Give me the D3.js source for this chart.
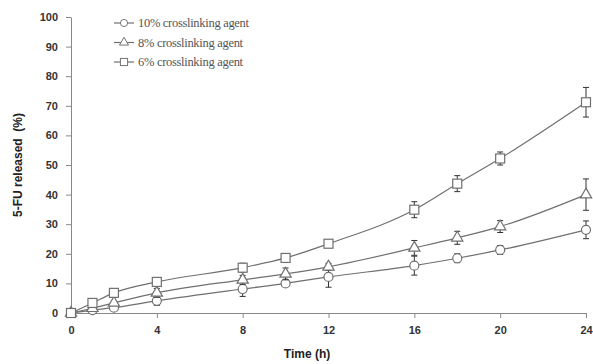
<!DOCTYPE html>
<html>
<head>
<meta charset="utf-8">
<script src="https://cdn.jsdelivr.net/npm/d3@7"></script>
<style>
  body { margin: 0; background: #fff; }
  .axis text { font-family: "Liberation Sans", Arial, sans-serif; font-weight: bold; font-size: 11px; fill: #333; }
  .axis path, .axis line { stroke: #888; }
</style>
</head>
<body>
<div id="chart"></div>
<script>
(function() {

  var times = [0, 1, 2, 4, 8, 10, 12, 16, 18, 20, 24];

  var names = ["10% crosslinking agent", "8% crosslinking agent", "6% crosslinking agent"];

  var released10 = [0, 1.0, 1.8, 4.1, 8.1, 10.0, 12.2, 16.0, 18.5, 21.3, 28.1],
      err10      = [0, 0.5, 0.6, 1.5, 2.5, 1.0, 3.5, 3.2, 1.5, 1.5, 3.0];

  var released8 = [0, 1.6, 3.4, 6.8, 11.2, 13.2, 15.6, 22.0, 25.4, 29.2, 40.0],
      err8      = [0, 0.5, 0.8, 1.5, 1.5, 2.0, 1.2, 2.5, 2.2, 2.0, 5.3];

  var released6 = [0, 3.4, 6.8, 10.5, 15.3, 18.6, 23.4, 34.9, 43.7, 52.2, 71.2],
      err6      = [0, 0.6, 0.8, 1.0, 1.5, 1.5, 1.0, 2.7, 2.7, 2.2, 5.0];

  var xTicks = [0, 4, 8, 12, 16, 20, 24],
      yTicks = [0, 10, 20, 30, 40, 50, 60, 70, 80, 90, 100];

  var series = [
    { name: names[0], values: released10, errors: err10, shape: "circle" },
    { name: names[1], values: released8, errors: err8, shape: "triangle" },
    { name: names[2], values: released6, errors: err6, shape: "square" }
  ];

  var width = 593, height = 364;
  var margin = { top: 17, right: 7, bottom: 51, left: 71 };

  var svg = d3.select("#chart").append("svg")
      .attr("width", width)
      .attr("height", height);

  var x = d3.scaleLinear()
      .domain([0, 24])
      .range([margin.left, width - margin.right]);

  var y = d3.scaleLinear()
      .domain([0, 100])
      .range([height - margin.bottom, margin.top]);

  var lineColor = "#707070";

  svg.append("g")
      .attr("class", "axis")
      .attr("transform", "translate(0," + y(0) + ")")
      .call(d3.axisBottom(x).tickValues(xTicks).tickSize(5).tickPadding(8).tickSizeOuter(0));

  svg.append("g")
      .attr("class", "axis")
      .attr("transform", "translate(" + x(0) + ",0)")
      .call(d3.axisLeft(y).tickValues(yTicks).tickSize(5).tickPadding(8).tickSizeOuter(0));

  svg.append("text")
      .attr("x", 307)
      .attr("y", 358)
      .attr("text-anchor", "middle")
      .style("font-family", "'Liberation Sans', Arial, sans-serif")
      .style("font-weight", "bold")
      .style("font-size", "12px")
      .style("fill", "#222")
      .text("Time (h)");

  svg.append("text")
      .attr("transform", "translate(22," + y(50) + ") rotate(-90)")
      .attr("text-anchor", "middle")
      .style("font-family", "'Liberation Sans', Arial, sans-serif")
      .style("font-weight", "bold")
      .style("font-size", "12px")
      .style("fill", "#222")
      .style("white-space", "pre")
      .text("5-FU released  (%)");

  var line = d3.line()
      .x(function(d) { return x(d[0]); })
      .y(function(d) { return y(d[1]); })
      .curve(d3.curveMonotoneX);

  function marker(g, shape) {
    if (shape === "circle") {
      g.append("circle").attr("r", 4.5);
    } else if (shape === "square") {
      g.append("rect").attr("x", -4.5).attr("y", -4.5).attr("width", 9).attr("height", 9);
    } else {
      g.append("path").attr("d", d3.symbol(d3.symbolTriangle, 55)());
    }
    g.selectAll("*")
        .attr("fill", "#fff")
        .attr("stroke", lineColor)
        .attr("stroke-width", 1.2);
  }

  series.forEach(function(s) {
    var pts = times.map(function(t, i) { return [t, s.values[i], s.errors[i]]; });

    var g = svg.append("g");

    g.append("path")
        .datum(pts)
        .attr("fill", "none")
        .attr("stroke", lineColor)
        .attr("stroke-width", 1.2)
        .attr("d", line);

    var eb = g.selectAll(".err")
        .data(pts.filter(function(d) { return d[2] > 0.8; }))
      .enter().append("g")
        .attr("stroke", "#333")
        .attr("stroke-width", 1);

    eb.append("line")
        .attr("x1", function(d) { return x(d[0]); })
        .attr("x2", function(d) { return x(d[0]); })
        .attr("y1", function(d) { return y(d[1] + d[2]); })
        .attr("y2", function(d) { return y(d[1] - d[2]); });

    eb.selectAll(".cap")
        .data(function(d) { return [[d[0], d[1] + d[2]], [d[0], d[1] - d[2]]]; })
      .enter().append("line")
        .attr("x1", function(d) { return x(d[0]) - 3; })
        .attr("x2", function(d) { return x(d[0]) + 3; })
        .attr("y1", function(d) { return y(d[1]); })
        .attr("y2", function(d) { return y(d[1]); });

    g.selectAll(".pt")
        .data(pts)
      .enter().append("g")
        .attr("transform", function(d) { return "translate(" + x(d[0]) + "," + y(d[1]) + ")"; })
        .each(function() { marker(d3.select(this), s.shape); });
  });

  // legend
  var legend = svg.append("g")
      .attr("transform", "translate(114,23)");

  series.forEach(function(s, i) {
    var row = legend.append("g")
        .attr("transform", "translate(0," + (i * 19.5) + ")");

    row.append("line")
        .attr("x1", 0).attr("x2", 20)
        .attr("stroke", lineColor)
        .attr("stroke-width", 1.2);

    var m = row.append("g").attr("transform", "translate(10,0)");
    marker(m, s.shape);
    m.selectAll("*").attr("transform", "scale(0.8)");

    row.append("text")
        .attr("x", 24)
        .attr("dy", "0.35em")
        .style("font-family", "'Liberation Serif', 'Times New Roman', serif")
        .style("font-size", "12.5px")
        .style("letter-spacing", "-0.3px")
        .style("fill", "#555")
        .text(s.name);
  });

})();
</script>
</body>
</html>
